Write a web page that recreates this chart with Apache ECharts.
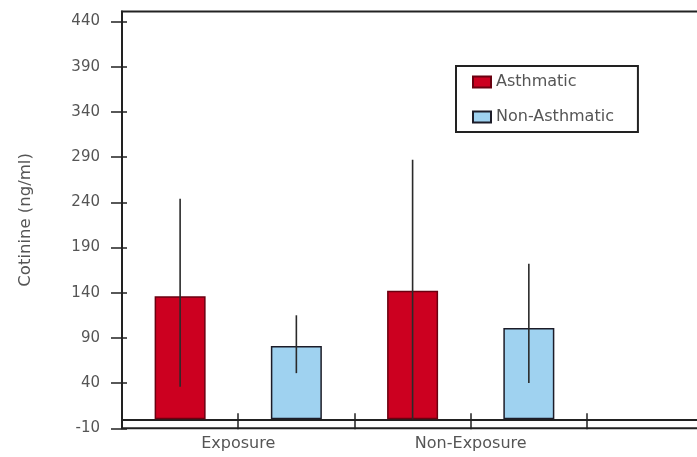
<!DOCTYPE html>
<html>
<head>
<meta charset="utf-8">
<style>
  html, body { margin: 0; padding: 0; background: #fff; }
  #chart { width: 697px; height: 457px; }
</style>
<script src="https://cdn.jsdelivr.net/npm/echarts@6/dist/echarts.min.js"></script>
</head>
<body>
<div id="chart"></div>
<script>
// Cotinine levels by exposure group
const categories = ['Exposure', 'Non-Exposure'];
const seriesNames = ['Asthmatic', 'Non-Asthmatic'];
const asthmatic = [136, 142];
const nonAsthmatic = [81, 101];
// error bar ends (low, high)
const asthmaticLow = [36, 0];
const asthmaticHigh = [244, 287];
const nonAsthmaticLow = [51, 40];
const nonAsthmaticHigh = [115, 172];
const yTicks = [-10, 40, 90, 140, 190, 240, 290, 340, 390, 440];

const FONT = 'DejaVu Sans';
const INK = '#222';
const TEXT = '#555';

// each group spans two units on the x scale; first series sits left of centre, second right
const groupCenter = i => 2 * i + 1;
const barPoints = (vals, side) => vals.map((v, i) => [groupCenter(i) + side * 0.5, v]);
const errPoints = (lo, hi, side) => lo.map((l, i) => [groupCenter(i) + side * 0.5, l, hi[i]]);

const errorRender = (params, api) => {
  const a = api.coord([api.value(0), api.value(1)]);
  const b = api.coord([api.value(0), api.value(2)]);
  return {
    type: 'line',
    shape: { x1: a[0], y1: a[1], x2: b[0], y2: b[1] },
    style: { stroke: '#2a2a2a', lineWidth: 1.6 }
  };
};

const chart = echarts.init(document.getElementById('chart'));
chart.setOption({
  animation: false,
  backgroundColor: '#fff',
  grid: {
    left: 122, top: 11.5, right: -6.2, bottom: 28.7,
    outerBoundsMode: 'none',
    containLabel: false,
    show: true, borderColor: INK, borderWidth: 2, backgroundColor: 'transparent'
  },
  legend: {
    data: seriesNames,
    orient: 'vertical',
    left: 456, top: 66,
    width: 181,
    padding: [6, 24, 5, 16],
    itemGap: 15,
    itemWidth: 18, itemHeight: 11,
    icon: 'rect',
    borderColor: INK, borderWidth: 2,
    textStyle: { fontFamily: FONT, fontSize: 16, color: TEXT, lineHeight: 20 }
  },
  xAxis: [
    {
      type: 'value', min: 0, max: 5, interval: 1, position: 'bottom',
      splitLine: { show: false },
      axisLine: { show: true, onZero: true, lineStyle: { color: INK, width: 2 } },
      axisTick: { show: true, length: 10, lineStyle: { color: INK, width: 1.5 } },
      axisLabel: {
        customValues: categories.map((c, i) => groupCenter(i)),
        formatter: v => categories[(v - 1) / 2] || '',
        margin: 8,
        fontFamily: FONT, fontSize: 16, color: TEXT
      }
    },
    {
      type: 'value', min: 0, max: 5, interval: 1, position: 'bottom',
      splitLine: { show: false },
      axisLine: { show: false, onZero: true },
      axisTick: { show: true, inside: true, length: 6, lineStyle: { color: INK, width: 1.5 } },
      axisLabel: { show: false }
    }
  ],
  yAxis: [
    {
      type: 'value', min: -10, max: 451, position: 'left',
      name: 'Cotinine (ng/ml)',
      nameLocation: 'middle',
      nameGap: 88,
      nameTextStyle: { fontFamily: FONT, fontSize: 16.5, color: TEXT },
      splitLine: { show: false },
      axisLine: { show: true, onZero: false, lineStyle: { color: INK, width: 2 } },
      axisTick: { show: true, length: 11, customValues: yTicks, lineStyle: { color: INK, width: 1.5 } },
      axisLabel: {
        customValues: yTicks, margin: 22,
        fontFamily: FONT, fontSize: 15, color: TEXT
      }
    },
    {
      type: 'value', min: -10, max: 451, position: 'left',
      splitLine: { show: false },
      axisLine: { show: false, onZero: false },
      axisTick: { show: true, inside: true, length: 5, customValues: yTicks, lineStyle: { color: INK, width: 1.5 } },
      axisLabel: { show: false }
    }
  ],
  series: [
    {
      name: seriesNames[0], type: 'bar', xAxisIndex: 0, yAxisIndex: 0,
      barWidth: 51,
      data: barPoints(asthmatic, -1),
      itemStyle: { color: '#cc0020', borderColor: '#6a0010', borderWidth: 1.5 }
    },
    {
      name: seriesNames[1], type: 'bar', xAxisIndex: 0, yAxisIndex: 0,
      barWidth: 51, barGap: '-100%',
      data: barPoints(nonAsthmatic, 1),
      itemStyle: { color: '#9fd2f0', borderColor: '#1c1c28', borderWidth: 1.5 }
    },
    {
      type: 'custom', xAxisIndex: 0, yAxisIndex: 0, z: 5,
      renderItem: errorRender,
      encode: { x: 0, y: [1, 2] },
      data: errPoints(asthmaticLow, asthmaticHigh, -1)
    },
    {
      type: 'custom', xAxisIndex: 0, yAxisIndex: 0, z: 5,
      renderItem: errorRender,
      encode: { x: 0, y: [1, 2] },
      data: errPoints(nonAsthmaticLow, nonAsthmaticHigh, 1)
    }
  ]
});
</script>
</body>
</html>
